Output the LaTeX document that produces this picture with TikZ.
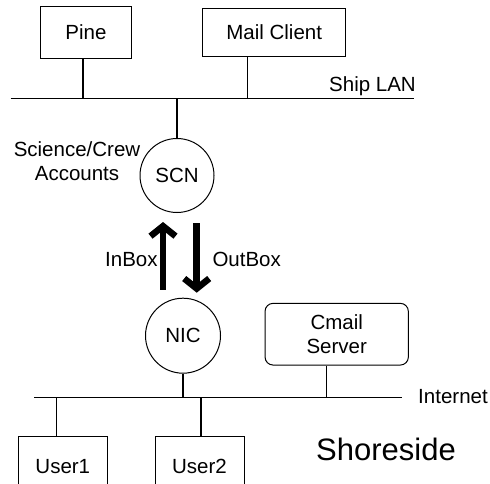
\documentclass[tikz,border=0pt]{standalone}
\usepackage{fontspec}
\setmainfont{Liberation Sans}
\usetikzlibrary{arrows.meta}

\tikzset{
  hostbox/.style={draw, line width=1pt, rectangle, inner sep=0pt},
  netnode/.style={draw, line width=1pt, circle, inner sep=0pt},
  bus/.style={line width=1.2pt},
  fatarrow/.style={line width=6.5pt, -{Straight Barb[length=10pt,width=25pt]}}
}

\begin{document}
\begin{tikzpicture}[x=1pt, y=-1pt, font=\fontsize{20.5}{23.7}\selectfont]
\useasboundingbox (0,0) rectangle (490,484);
% ship side
\node[hostbox, minimum width=90.6pt, minimum height=52.3pt] (pine) at (86,32.2) {Pine};
\node[hostbox, minimum width=143pt, minimum height=47.7pt] (mailclient) at (274.2,32.2) {Mail Client};
\coordinate (lanW) at (10.7,98.3);
\coordinate (lanE) at (414.3,98.3);
\draw[bus] (lanW) -- (lanE);
\node[anchor=base] (shiplan) at (372.5,92) {Ship LAN};
\foreach \n/\dx in {pine/-3, mailclient/-27}{
  \draw[bus] ([xshift=\dx pt]\n.south) coordinate (tap) -- (tap |- lanW);
}
\node[netnode, minimum size=74pt] (scn) at (177,175.5) {SCN};
\draw[bus] (scn.north) -- (scn.north |- lanW);
\node[align=center] (accounts) at (77,161.3) {Science/Crew\\Accounts};

% the link
\node[netnode, minimum size=75pt] (nic) at (183,335.7) {NIC};
\draw[fatarrow, shorten <=8pt, shorten >=9pt] (163,0 |- nic.north) -- (163,0 |- scn.south);
\draw[fatarrow, shorten <=10pt, shorten >=5pt] (196.7,0 |- scn.south) -- (196.7,0 |- nic.north);
\node[anchor=base] (inbox) at (131.4,266.7) {InBox};
\node[anchor=base] (outbox) at (246.7,266.7) {OutBox};

% shore side
\node[hostbox, rounded corners=8pt, minimum width=143.3pt, minimum height=61.7pt, align=center] (cmail) at (336.7,334.2) {Cmail\\Server};
\coordinate (netW) at (34.3,397.3);
\coordinate (netE) at (401.7,397.3);
\draw[bus] (netW) -- (netE);
\node[anchor=base] (internet) at (453,403.3) {Internet};
\node[hostbox, minimum width=89pt, minimum height=60pt] (userone) at (62.8,466.7) {User1};
\node[hostbox, minimum width=89pt, minimum height=60pt] (usertwo) at (199.5,466.7) {User2};
\draw[bus] (nic.south) -- (nic.south |- netW);
\foreach \n/\dx in {userone/-6, usertwo/1.5}{
  \draw[bus] ([xshift=\dx pt]\n.north) coordinate (tap) -- (tap |- netW);
}
\draw[bus] ([xshift=-10pt]cmail.south) coordinate (tap) -- (tap |- netW);
\node[anchor=base, font=\fontsize{31}{36}\selectfont] (shoreside) at (386,460) {Shoreside};
\end{tikzpicture}
\end{document}
